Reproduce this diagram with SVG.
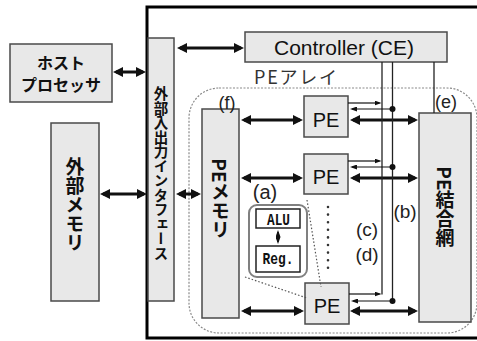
<svg xmlns="http://www.w3.org/2000/svg" width="477" height="341" viewBox="0 0 477 341">
<style>
.box{fill:#e8e8e8;stroke:#4a4a4a;stroke-width:1.5}
.wbox{fill:#fff;stroke:#222;stroke-width:1.5}
.jp{font-family:"Noto Sans CJK JP","Noto Sans",sans-serif;font-weight:700;fill:#111}
.vt{writing-mode:vertical-rl}
.lat{font-family:"Liberation Sans",Arial,sans-serif;fill:#111}
.lbl{font-family:"Liberation Sans",Arial,sans-serif;fill:#222;font-size:19px}
.thick{stroke:#111;stroke-width:3;fill:none;marker-start:url(#ah);marker-end:url(#ah)}
.thin{stroke:#111;stroke-width:1.2;fill:none;marker-end:url(#as)}
.ctl{stroke:#222;stroke-width:1.3;fill:none}
.dot{stroke:#555;stroke-width:1.2;stroke-dasharray:1.5 2;fill:none}
</style>
<defs>
<marker id="ah" markerUnits="userSpaceOnUse" markerWidth="10" markerHeight="10" refX="7" refY="5" orient="auto-start-reverse">
<path d="M0,0 L10,5 L0,10 z" fill="#111"/>
</marker>
<marker id="as" markerUnits="userSpaceOnUse" markerWidth="7" markerHeight="5" refX="5" refY="2.5" orient="auto-start-reverse">
<path d="M0,0 L7,2.5 L0,5 z" fill="#111"/>
</marker>
</defs>

<g id="frame">
<path d="M477,7 H147 V338 H477" fill="none" stroke="#000" stroke-width="3"/>
</g>

<g id="pe-array">
<rect x="189" y="88" width="288" height="245" rx="30" fill="none" stroke="#8a8a8a" stroke-width="1.2" stroke-dasharray="2 1.5"/>
<text x="254" y="84" font-family="'Noto Sans CJK JP','Noto Sans',sans-serif" font-size="18" fill="#333" textLength="83" lengthAdjust="spacing">PEアレイ</text>
</g>

<g id="host">
<rect class="box" x="10" y="44" width="102" height="58"/>
<text class="jp" x="61" y="68.5" font-size="16" text-anchor="middle">ホスト</text>
<text class="jp" x="61" y="90.5" font-size="16" text-anchor="middle">プロセッサ</text>
</g>

<g id="ext-memory">
<rect class="box" x="51" y="123" width="48" height="178"/>
<text class="jp vt" x="75" y="205" font-size="19" text-anchor="middle">外部メモリ</text>
</g>

<g id="io-interface">
<rect class="box" x="148" y="38" width="26" height="263"/>
<text class="jp vt" x="161" y="173.5" font-size="14.5" text-anchor="middle">外部入出力インタフェース</text>
</g>

<g id="controller">
<rect class="box" x="245" y="32" width="202" height="30"/>
<text class="lat" x="344" y="55" font-size="21" text-anchor="middle">Controller (CE)</text>
</g>

<g id="pe-memory">
<rect class="box" x="202" y="109" width="37" height="209"/>
<text class="jp vt" x="220.5" y="199" font-size="19" text-anchor="middle">PEメモリ</text>
<text class="lbl" x="227" y="109" font-size="18" text-anchor="middle" style="font-size:18px">(f)</text>
</g>

<g id="pe-network">
<rect class="box" x="419" y="113" width="52" height="209"/>
<text class="jp vt" x="445" y="207" font-size="19" text-anchor="middle">PE結合網</text>
<text class="lbl" x="446" y="108" text-anchor="middle" style="font-size:18px">(e)</text>
</g>

<g id="pe1">
<rect class="box" x="304" y="96" width="44" height="41"/>
<text class="lat" x="326" y="127" font-size="20" text-anchor="middle">PE</text>
</g>
<g id="pe2">
<rect class="box" x="304" y="154" width="44" height="40"/>
<text class="lat" x="326" y="184" font-size="20" text-anchor="middle">PE</text>
</g>
<g id="pe3">
<rect class="box" x="305" y="283" width="44" height="41"/>
<text class="lat" x="327" y="313" font-size="20" text-anchor="middle">PE</text>
</g>

<g id="pe-detail">
<text class="lbl" x="265" y="199" text-anchor="middle" style="font-size:20px">(a)</text>
<rect x="249" y="205" width="58" height="72" rx="8" fill="#fff" stroke="#808080" stroke-width="2"/>
<rect class="wbox" x="256" y="209" width="44" height="19"/>
<text x="278.5" y="225" font-family="'Liberation Mono',monospace" font-size="16" font-weight="700" fill="#111" text-anchor="middle" textLength="23" lengthAdjust="spacingAndGlyphs">ALU</text>
<rect class="wbox" x="256" y="246" width="44" height="26"/>
<text x="278" y="264" font-family="'Liberation Mono',monospace" font-size="17" font-weight="700" fill="#111" text-anchor="middle" textLength="31" lengthAdjust="spacingAndGlyphs">Reg.</text>
</g>

<g id="labels">
<text class="lbl" x="405" y="218" text-anchor="middle">(b)</text>
<text class="lbl" x="367" y="236" text-anchor="middle">(c)</text>
<text class="lbl" x="367" y="261" text-anchor="middle">(d)</text>
</g>

<g id="connectors">
<line class="thick" x1="116" y1="72" x2="143" y2="72"/>
<line class="thick" x1="103" y1="194" x2="144" y2="194"/>
<line class="thick" x1="180" y1="48" x2="241" y2="48"/>
<line class="thick" x1="179" y1="194" x2="198" y2="194"/>

<line class="thick" x1="244" y1="120" x2="300" y2="120"/>
<line class="thick" x1="244" y1="178" x2="300" y2="178"/>
<line class="thick" x1="244" y1="311" x2="301" y2="311"/>
<line class="thick" x1="353" y1="120" x2="415" y2="120"/>
<line class="thick" x1="353" y1="178" x2="415" y2="178"/>
<line class="thick" x1="353" y1="311" x2="415" y2="311"/>

<line class="ctl" x1="382" y1="62" x2="382" y2="294.6"/>
<line class="ctl" x1="392.5" y1="62" x2="392.5" y2="301"/>
<line class="ctl" x1="434" y1="62" x2="434" y2="113"/>

<line class="thin" x1="348" y1="103" x2="379.5" y2="103"/>
<line class="thin" x1="348" y1="161" x2="379.5" y2="161"/>
<line class="thin" x1="349" y1="294" x2="379.5" y2="294"/>
<line class="thin" x1="392.5" y1="109" x2="352" y2="109"/>
<line class="thin" x1="392.5" y1="167" x2="352" y2="167"/>
<line class="thin" x1="392.5" y1="301" x2="353" y2="301"/>
<circle cx="392.5" cy="109" r="3" fill="#111"/>
<circle cx="392.5" cy="167" r="3" fill="#111"/>
<circle cx="392.5" cy="301" r="3" fill="#111"/>

<line stroke="#111" stroke-width="1.5" x1="278" y1="232" x2="278" y2="242" marker-start="url(#as)" marker-end="url(#as)"/>

<line x1="328" y1="207" x2="328" y2="269" stroke="#333" stroke-width="2.6" stroke-linecap="round" stroke-dasharray="0 7.6"/>
<line class="dot" x1="307" y1="200" x2="321" y2="287"/>
<line class="dot" x1="245" y1="277" x2="307" y2="298"/>
</g>
</svg>
